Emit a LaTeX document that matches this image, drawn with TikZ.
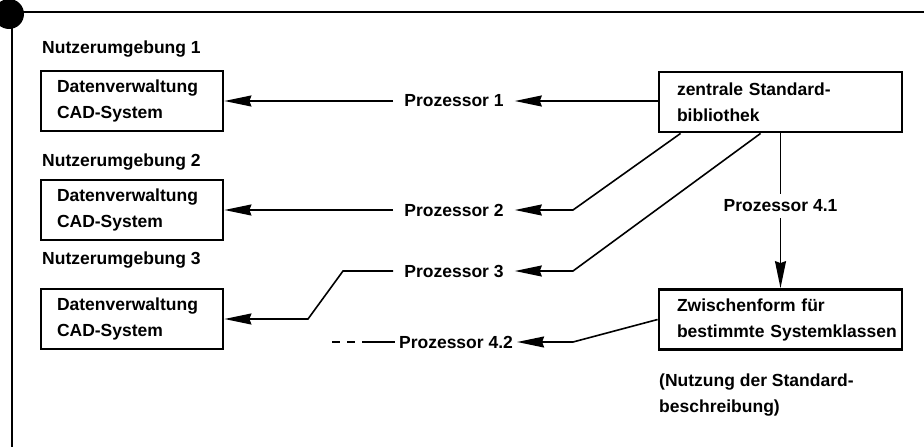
\documentclass[tikz,border=0pt]{standalone}
\usepackage{fontspec}
\setmainfont{Liberation Sans}
\usetikzlibrary{arrows.meta}
\tikzset{
  box/.style={draw, line width=2.8pt, minimum height=60pt, align=left, inner ysep=0pt},
  lbox/.style={box, text width=150pt, inner xsep=16pt},
  rbox/.style={box, text width=207pt, inner xsep=18pt},
  proc/.style={inner xsep=11pt, inner ysep=2pt},
  lbl/.style={inner sep=0pt, anchor=west, align=left},
  conn/.style={line width=1.6pt},
  arr/.style={conn, -{Stealth[length=27pt, width=11pt, inset=2pt]}},
  frame/.style={line width=2.2pt}
}
\hyphenpenalty=10000 \exhyphenpenalty=10000 \hbadness=10000 \hfuzz=50pt
\begin{document}
\begin{tikzpicture}[x=1pt, y=-1pt, font=\fontsize{17.5}{26}\selectfont\bfseries]
\useasboundingbox (0,0) rectangle (924,447);
\fill[white] (0,0) rectangle (924,447);
% frame
\draw[frame] (0,12) -- (924,12);
\draw[frame] (12,12) -- (12,447);
\fill (9,14) circle (15);
% left labels and boxes
\node[lbl] (n1) at (42,49) {Nutzerumgebung 1};
\node[lbl] (n2) at (42,162) {Nutzerumgebung 2};
\node[lbl] (n3) at (42,260) {Nutzerumgebung 3};
\node[lbox] (b1) at (132,101) {Datenverwaltung\\CAD-System};
\node[lbox] (b2) at (132,210) {Datenverwaltung\\CAD-System};
\node[lbox] (b3) at (132,319) {Datenverwaltung\\CAD-System};
% right boxes
\node[rbox] (z) at (780.5,102) {zentrale Standard-\\bibliothek};
\node[rbox] (zw) at (780.5,319.5) {Zwischenform~für\\bestimmte~Systemklassen};
\node[lbl] (note) at (659,395) {(Nutzung der Standard-\\beschreibung)};
% processors
\node[proc] (p1) at (454,101) {Prozessor 1};
\node[proc] (p2) at (454,210) {Prozessor 2};
\node[proc] (p3) at (454,271) {Prozessor 3};
\node[proc, inner xsep=4pt] (p42) at (456,342) {Prozessor 4.2};
\node[inner sep=6pt] (p41) at (780.5,206) {Prozessor 4.1};
\coordinate (d0) at (332,342);
\coordinate (d1) at (340,342);
\coordinate (d2) at (347,342);
\coordinate (d3) at (355,342);
\coordinate (d4) at (362,342);
% connectors
\draw[arr] (z.west |- p1) -- (p1.east);
\draw[arr] (p1.west) -- (b1.east);
\draw[arr] ([xshift=23pt]z.south west) -- (573,210) -- (p2.east);
\draw[arr] (p2.west) -- (b2.east);
\draw[arr] ([xshift=103pt]z.south west) -- (573,271) -- (p3.east);
\draw[arr] (p3.west) -- (343,271) -- (308,319) -- (b3.east);
\draw[conn] (z.south) -- (p41.north);
\draw[arr] (p41.south) -- (zw.north);
\draw[arr] (zw.west) -- (573,342) -- (p42.east);
\draw[conn] (d0) -- (d1) (d2) -- (d3) (d4) -- (p42.west);
\end{tikzpicture}
\end{document}
